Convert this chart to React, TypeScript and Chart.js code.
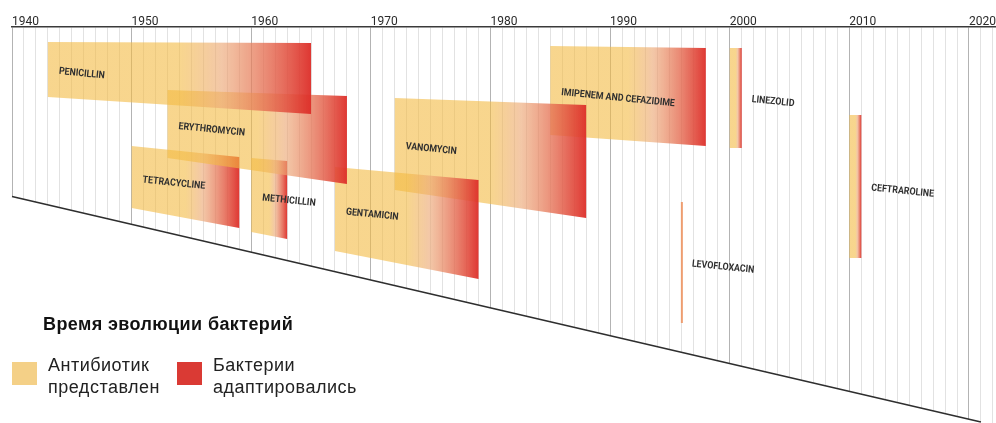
import React, { useEffect, useRef } from 'react';
import { Chart, registerables } from 'chart.js';

Chart.register(...registerables);

// ---- data ----
const NAMES = [
  'PENICILLIN',
  'ERYTHROMYCIN',
  'TETRACYCLINE',
  'METHICILLIN',
  'GENTAMICIN',
  'VANOMYCIN',
  'IMIPENEM AND CEFAZIDIME',
  'LINEZOLID',
  'LEVOFLOXACIN',
  'CEFTRAROLINE',
];
// year the antibiotic was introduced / year bacteria adapted
const START_YEARS = [1943, 1953, 1950, 1960, 1967, 1972, 1985, 2000, 1996, 2010];
const END_YEARS = [1965, 1968, 1959, 1963, 1979, 1988, 1998, 2001, 1996, 2011];
// vertical placement on the hidden row scale (0 = time axis), at the start and end of each band
const TOP_START = [15, 63, 119, 131, 140, 71, 19, 21, 175, 88];
const TOP_END = [16, 69, 130, 134, 153, 78, 21, 21, 175, 88];
const BOTTOM_START = [70, 131, 181, 205, 224, 163, 108, 121, 296, 231];
const BOTTOM_END = [87, 157, 201, 212, 252, 191, 119, 121, 296, 231];
// sloping base line of the timeline
const BASELINE_YEARS = [1940, 2021];
const BASELINE_ROWS = [169.5, 395];

const YEAR_MIN = 1940;
const YEAR_MAX = 2022.26;

function barGradient(chart: any, i: number) {
  const xs = chart.scales && chart.scales.x;
  if (!xs) return 'rgba(0,0,0,0)';
  const x0 = xs.getPixelForValue(START_YEARS[i]);
  const x1 = xs.getPixelForValue(END_YEARS[i]);
  if (!isFinite(x0) || !isFinite(x1) || x1 - x0 < 1) return 'rgba(238,150,100,0.85)';
  const g = chart.ctx.createLinearGradient(x0, 0, x1, 0);
  g.addColorStop(0, 'rgba(243,186,66,0.6)');
  g.addColorStop(0.5, 'rgba(243,186,66,0.6)');
  g.addColorStop(0.66, 'rgba(236,168,118,0.64)');
  g.addColorStop(0.84, 'rgba(228,104,78,0.8)');
  g.addColorStop(1, 'rgba(221,45,40,0.95)');
  return g;
}

const coverBelowBaseline = {
  id: 'coverBelowBaseline',
  beforeDatasetsDraw(chart: any) {
    const meta = chart.getDatasetMeta(NAMES.length);
    if (!meta || meta.data.length < 2) return;
    const p0 = meta.data[0];
    const p1 = meta.data[1];
    const slope = (p1.y - p0.y) / (p1.x - p0.x);
    const w = chart.width;
    const h = chart.height;
    const yL = p0.y - slope * p0.x;
    const yR = p0.y + slope * (w - p0.x);
    const ctx = chart.ctx;
    ctx.save();
    ctx.fillStyle = '#ffffff';
    ctx.beginPath();
    ctx.moveTo(0, yL);
    ctx.lineTo(w, yR);
    ctx.lineTo(w, h + 50);
    ctx.lineTo(0, h + 50);
    ctx.closePath();
    ctx.fill();
    ctx.restore();
  },
};

const bandLabels = {
  id: 'bandLabels',
  afterDatasetsDraw(chart: any) {
    const xs = chart.scales.x;
    const ys = chart.scales.y;
    const ctx = chart.ctx;
    NAMES.forEach((name, i) => {
      const x0 = xs.getPixelForValue(START_YEARS[i]);
      const x1 = xs.getPixelForValue(END_YEARS[i]);
      const inside = x1 - x0 > 30;
      const lx = inside ? x0 + 11 : x1 + 10;
      const t = inside ? (lx - x0) / (x1 - x0) : 1;
      const top = ys.getPixelForValue(TOP_START[i] + t * (TOP_END[i] - TOP_START[i]));
      const bot = ys.getPixelForValue(BOTTOM_START[i] + t * (BOTTOM_END[i] - BOTTOM_START[i]));
      const ly = (top + bot) / 2 + 1.5;
      ctx.save();
      ctx.translate(lx, ly);
      ctx.rotate(0.1);
      ctx.scale(0.88, 1);
      ctx.font = '700 10px Roboto, "DejaVu Sans", sans-serif';
      ctx.fillStyle = '#303030';
      ctx.textAlign = 'left';
      ctx.textBaseline = 'middle';
      ctx.fillText(name, 0, 0);
      ctx.restore();
    });
  },
};

export default function App() {
  const canvasRef = useRef<HTMLCanvasElement | null>(null);

  useEffect(() => {
    if (!canvasRef.current) return;
    const bandSets = NAMES.map((name, i) => {
      const thin = END_YEARS[i] - START_YEARS[i] < 0.5;
      return {
        type: 'line' as const,
        label: name,
        data: [
          { x: START_YEARS[i], y: TOP_START[i] },
          { x: END_YEARS[i], y: TOP_END[i] },
          { x: END_YEARS[i], y: BOTTOM_END[i] },
          { x: START_YEARS[i], y: BOTTOM_START[i] },
        ],
        fill: 'shape',
        backgroundColor: (c: any) => barGradient(c.chart, i),
        borderColor: thin ? 'rgba(238,150,100,0.9)' : 'rgba(0,0,0,0)',
        borderWidth: thin ? 2 : 1,
        pointRadius: 0,
        pointHoverRadius: 0,
        tension: 0,
      };
    });
    const baseline = {
      type: 'line' as const,
      label: 'baseline',
      data: BASELINE_YEARS.map((x, k) => ({ x, y: BASELINE_ROWS[k] })),
      borderColor: '#2e2e2e',
      borderWidth: 1.6,
      pointRadius: 0,
      fill: false,
      clip: false as any,
    };

    const chart = new Chart(canvasRef.current, {
      type: 'line',
      data: { datasets: [...bandSets, baseline] as any },
      options: {
        animation: false,
        responsive: true,
        maintainAspectRatio: false,
        events: [],
        layout: { padding: { left: 12, right: 0, top: 0, bottom: 0 } },
        plugins: {
          legend: { display: false },
          tooltip: { enabled: false },
        },
        scales: {
          x: {
            type: 'linear',
            position: 'top',
            min: YEAR_MIN,
            max: YEAR_MAX,
            afterFit: (scale: any) => {
              scale.height = 27;
            },
            ticks: {
              stepSize: 1,
              autoSkip: false,
              maxRotation: 0,
              includeBounds: false,
              align: 'start',
              padding: -2,
              color: '#2a2a2a',
              font: { family: 'Roboto, "Liberation Sans", sans-serif', size: 12, weight: 400 as any },
              callback: (v: any) => (Number(v) % 10 === 0 ? String(v) : ''),
            },
            grid: {
              drawTicks: false,
              lineWidth: 1,
              color: (c: any) => (c.tick && Math.round(c.tick.value) % 10 === 0 ? '#b3b3b3' : '#e2e2e2'),
            },
            border: { display: true, color: '#3a3a3a', width: 1.5 },
          },
          y: {
            type: 'linear',
            display: false,
            min: 0,
            max: 396,
            reverse: true,
          },
        },
      } as any,
      plugins: [coverBelowBaseline, bandLabels],
    });
    return () => chart.destroy();
  }, []);

  const legendText: React.CSSProperties = {
    position: 'absolute',
    font: '18px "Liberation Sans", Arial, sans-serif',
    lineHeight: '22px',
    letterSpacing: '0.5px',
    color: '#222',
    whiteSpace: 'nowrap',
  };
  const swatch: React.CSSProperties = {
    position: 'absolute',
    width: 25,
    height: 23,
    top: 362,
  };

  return (
    <div style={{ position: 'absolute', left: 0, top: 0, width: 996, height: 423, background: '#fff', overflow: 'hidden' }}>
      <div style={{ position: 'absolute', left: 0, top: 0, width: 996, height: 423 }}>
        <canvas ref={canvasRef} />
      </div>
      <div
        style={{
          position: 'absolute',
          left: 43,
          top: 314,
          font: 'bold 18px "Liberation Sans", Arial, sans-serif',
          lineHeight: '20px',
          letterSpacing: '0.4px',
          color: '#111',
          whiteSpace: 'nowrap',
        }}
      >
        Время эволюции бактерий
      </div>
      <div style={{ ...swatch, left: 12, background: '#f4d087' }} />
      <div style={{ ...legendText, left: 48, top: 354 }}>
        Антибиотик
        <br />
        представлен
      </div>
      <div style={{ ...swatch, left: 177, background: '#da3a34' }} />
      <div style={{ ...legendText, left: 213, top: 354 }}>
        Бактерии
        <br />
        адаптировались
      </div>
    </div>
  );
}
